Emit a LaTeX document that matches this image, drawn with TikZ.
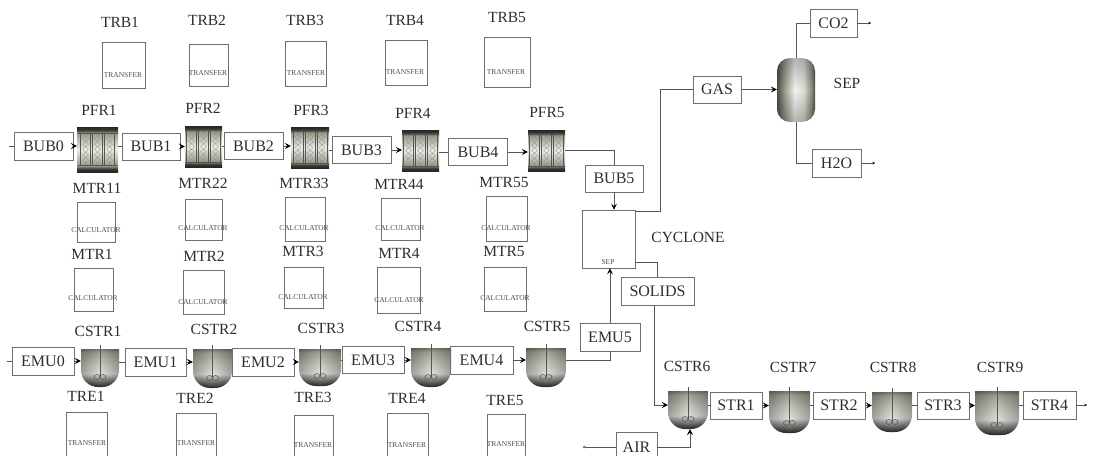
\documentclass[tikz,border=0pt]{standalone}
\usepackage{fontspec}
\setmainfont{Liberation Serif}
\usepackage{tikz}
\usetikzlibrary{positioning, calc, arrows.meta, fadings}
\definecolor{linegray}{HTML}{6F6F6F}
\definecolor{pipegray}{HTML}{555555}
\definecolor{inkgray}{HTML}{2E2E2E}
\definecolor{tubegray}{HTML}{55554C}
\pgfdeclareverticalshading{bowlshade}{100bp}{color(0bp)=(black!85); color(25bp)=(black!85);
  color(31bp)=(black!60); color(41bp)=(yellow!14!black!14); color(52bp)=(yellow!14!black!24);
  color(66bp)=(yellow!14!black!42); color(75bp)=(black!70); color(100bp)=(black!70)}
\pgfdeclareverticalshading{pfrshade}{100bp}{color(0bp)=(black!85); color(25bp)=(black!85);
  color(28bp)=(black!80); color(32bp)=(yellow!12!black!45); color(50bp)=(yellow!14!black!8);
  color(68bp)=(yellow!12!black!45); color(72bp)=(black!80); color(75bp)=(black!85); color(100bp)=(black!85)}
\pgfdeclarehorizontalshading{sepshade}{100bp}{color(0bp)=(black!70); color(25bp)=(black!70);
  color(33bp)=(yellow!12!black!50); color(48bp)=(yellow!14!black!6); color(60bp)=(yellow!14!black!15);
  color(70bp)=(yellow!12!black!50); color(75bp)=(black!70); color(100bp)=(black!70)}
\tikzfading[name=edgefade, left color=transparent!72, right color=transparent!72, middle color=transparent!100]
\tikzfading[name=capfade, top color=transparent!75, bottom color=transparent!75, middle color=transparent!100]
\newcommand{\pfrcore}{%
  \begin{scope}[shift={(path picture bounding box.center)}]
    \draw[tubegray, line width=.5pt] (-20,-16) -- (20,-16) (-20,16) -- (20,16);
    \foreach \cx in {-12,0,12}{
      \draw[tubegray, line width=.5pt] (\cx-5,-16) -- (\cx-5,16) (\cx+5,-16) -- (\cx+5,16);
      \draw[tubegray!70, line width=.25pt] (\cx-3,-16) -- (\cx+3,-10.7) -- (\cx-3,-5.3) -- (\cx+3,0) -- (\cx-3,5.3) -- (\cx+3,10.7) -- (\cx-3,16);
      \draw[tubegray!70, line width=.25pt] (\cx+3,-16) -- (\cx-3,-10.7) -- (\cx+3,-5.3) -- (\cx-3,0) -- (\cx+3,5.3) -- (\cx-3,10.7) -- (\cx+3,16);
    }
  \end{scope}}
\newcommand{\cstrshape}{($(path picture bounding box.north west)+(0,4)$)
    [rounded corners=17pt] -- (path picture bounding box.south west) -- (path picture bounding box.south east)
    [sharp corners] -- ($(path picture bounding box.north east)+(0,4)$) -- cycle}
\newcommand{\cstrcore}{%
  \shade[shading=bowlshade] \cstrshape;
  \fill[black, path fading=edgefade] \cstrshape;
  \draw[pipegray, line width=.5pt] (path picture bounding box.north) -- ($(path picture bounding box.south)+(0,-10)$);
  \draw[pipegray, line width=.5pt] ($(path picture bounding box.south)+(-3,-10)$) ellipse (3 and 2.5)
    ($(path picture bounding box.south)+(3,-10)$) ellipse (3 and 2.5);}
\begin{document}
\begin{tikzpicture}[x=1pt, y=-1pt,
  blk/.style 2 args={draw=linegray, line width=.7pt, inner sep=0pt, minimum width=#1, minimum height=#2},
  strm/.style 2 args={blk={#1}{#2}, font=\fontsize{16}{18}\selectfont, text=inkgray},
  unitname/.style={font=\fontsize{15.5}{18}\selectfont, text=inkgray, inner sep=0pt},
  tag/.style={font=\fontsize{7.5}{9}\selectfont, text=inkgray!85, inner sep=0pt},
  pfr/.style 2 args={inner sep=0pt, minimum width=#1, minimum height=#2, shading=pfrshade, path picture={\pfrcore}},
  cstr/.style 2 args={inner sep=0pt, minimum width=#1, minimum height=#2, path picture={\cstrcore}},
  pipe/.style={draw=pipegray, line width=.6pt},
  arr/.style={pipe, -{Stealth[length=6pt, width=6pt, inset=2.5pt, black]}},
  outarr/.style={pipe, -{Stealth[length=2.5pt, width=2.5pt, black]}},
  inlet/.style={pipe, {Circle[length=2.5pt, open]}-},
]
  \clip[use as bounding box] (0,0) rectangle (1102,455);

  % transfer blocks, top row
  \node[blk={43}{46}] (trb1) at (123.5,65) {}; \node[unitname] (trb1name) at (120,22) {TRB1}; \node[tag] (trb1tag) at (123,75) {TRANSFER};
  \node[blk={39}{42}] (trb2) at (208.5,65) {}; \node[unitname] (trb2name) at (207,20) {TRB2}; \node[tag] (trb2tag) at (208,73) {TRANSFER};
  \node[blk={41}{45}] (trb3) at (305.5,63.5) {}; \node[unitname] (trb3name) at (305,20) {TRB3}; \node[tag] (trb3tag) at (306,73) {TRANSFER};
  \node[blk={42}{45}] (trb4) at (406,62.5) {}; \node[unitname] (trb4name) at (405,20) {TRB4}; \node[tag] (trb4tag) at (405,72) {TRANSFER};
  \node[blk={46}{50}] (trb5) at (507,62) {}; \node[unitname] (trb5name) at (507,18) {TRB5}; \node[tag] (trb5tag) at (506,72) {TRANSFER};

  % calculator blocks
  \node[blk={38}{40}] (mtr11) at (96,222) {}; \node[unitname] (mtr11name) at (97,188) {MTR11}; \node[tag] (mtr11tag) at (96,230) {CALCULATOR};
  \node[blk={37}{41}] (mtr22) at (203.5,219.5) {}; \node[unitname] (mtr22name) at (203,183) {MTR22}; \node[tag] (mtr22tag) at (203,228) {CALCULATOR};
  \node[blk={40}{44}] (mtr33) at (305,219) {}; \node[unitname] (mtr33name) at (304,183) {MTR33}; \node[tag] (mtr33tag) at (304,228) {CALCULATOR};
  \node[blk={39}{42}] (mtr44) at (400.5,219) {}; \node[unitname] (mtr44name) at (399,184) {MTR44}; \node[tag] (mtr44tag) at (400,228) {CALCULATOR};
  \node[blk={41}{45}] (mtr55) at (506.5,218.5) {}; \node[unitname] (mtr55name) at (504,182) {MTR55}; \node[tag] (mtr55tag) at (506,228) {CALCULATOR};
  \node[blk={39}{43}] (mtr1) at (93.5,289.5) {}; \node[unitname] (mtr1name) at (92,254) {MTR1}; \node[tag] (mtr1tag) at (93,298) {CALCULATOR};
  \node[blk={41}{44}] (mtr2) at (203.5,292) {}; \node[unitname] (mtr2name) at (204,256) {MTR2}; \node[tag] (mtr2tag) at (203,302) {CALCULATOR};
  \node[blk={39}{41}] (mtr3) at (303.5,287.5) {}; \node[unitname] (mtr3name) at (303,251) {MTR3}; \node[tag] (mtr3tag) at (303,297) {CALCULATOR};
  \node[blk={43}{46}] (mtr4) at (398.5,290) {}; \node[unitname] (mtr4name) at (399,253) {MTR4}; \node[tag] (mtr4tag) at (399,300) {CALCULATOR};
  \node[blk={42}{44}] (mtr5) at (505,289) {}; \node[unitname] (mtr5name) at (504,251) {MTR5}; \node[tag] (mtr5tag) at (505,298) {CALCULATOR};

  % transfer blocks, bottom row
  \node[blk={41}{52}] (tre1) at (86.5,438) {}; \node[unitname] (tre1name) at (86,396) {TRE1}; \node[tag] (tre1tag) at (87,443) {TRANSFER};
  \node[blk={40}{52}] (tre2) at (196,439) {}; \node[unitname] (tre2name) at (195,398) {TRE2}; \node[tag] (tre2tag) at (196,443) {TRANSFER};
  \node[blk={39}{52}] (tre3) at (313.5,441) {}; \node[unitname] (tre3name) at (313,397) {TRE3}; \node[tag] (tre3tag) at (313,445) {TRANSFER};
  \node[blk={41}{52}] (tre4) at (407.5,439) {}; \node[unitname] (tre4name) at (407,398) {TRE4}; \node[tag] (tre4tag) at (407,445) {TRANSFER};
  \node[blk={38}{52}] (tre5) at (506,440) {}; \node[unitname] (tre5name) at (505,400) {TRE5}; \node[tag] (tre5tag) at (506,444) {TRANSFER};

  % plug flow reactors
  \node[pfr={41}{45}] (pfr1) at (97.5,149.5) {}; \node[unitname] (pfr1name) at (99,110) {PFR1};
  \node[pfr={37}{41}] (pfr2) at (203.5,146.5) {}; \node[unitname] (pfr2name) at (203,108) {PFR2};
  \node[pfr={38}{41}] (pfr3) at (310,147.5) {}; \node[unitname] (pfr3name) at (311,110) {PFR3};
  \node[pfr={37}{41}] (pfr4) at (420.5,150.5) {}; \node[unitname] (pfr4name) at (413,113) {PFR4};
  \node[pfr={37}{41}] (pfr5) at (546.5,150.5) {}; \node[unitname] (pfr5name) at (547,112) {PFR5};

  % stirred tanks
  \node[cstr={38}{42}] (cstr1) at (100,366) {}; \node[unitname] (cstr1name) at (98,331) {CSTR1};
  \node[cstr={39}{43}] (cstr2) at (212.5,366.5) {}; \node[unitname] (cstr2name) at (214,329) {CSTR2};
  \node[cstr={42}{41}] (cstr3) at (320,365.5) {}; \node[unitname] (cstr3name) at (321,328) {CSTR3};
  \node[cstr={40}{43}] (cstr4) at (431,365.5) {}; \node[unitname] (cstr4name) at (418,326) {CSTR4};
  \node[cstr={40}{43}] (cstr5) at (546,365.5) {}; \node[unitname] (cstr5name) at (547,326) {CSTR5};
  \node[cstr={40}{42}] (cstr6) at (688,408) {}; \node[unitname] (cstr6name) at (687,366) {CSTR6};
  \node[cstr={41}{46}] (cstr7) at (789.5,410) {}; \node[unitname] (cstr7name) at (793,367) {CSTR7};
  \node[cstr={40}{44}] (cstr8) at (892,410) {}; \node[unitname] (cstr8name) at (893,367) {CSTR8};
  \node[cstr={44}{48}] (cstr9) at (997,411) {}; \node[unitname] (cstr9name) at (1000,367) {CSTR9};

  % separators
  \node[blk={53}{58}] (cyclone) at (608.5,239) {}; \node[unitname] (cyclonename) at (688,237) {CYCLONE}; \node[tag] (cyclonetag) at (608,262) {SEP};
  \node[rounded corners=13pt, inner sep=0pt, minimum width=38, minimum height=64, shading=sepshade,
    path picture={\fill[black, path fading=capfade] (path picture bounding box.south west) rectangle (path picture bounding box.north east);}] (sep) at (796,90) {};
  \node[unitname] (sepname) at (847,83) {SEP};

  % stream tables
  \node[strm={59}{28}] (bub0) at (43.5,146) {BUB0};
  \node[strm={58}{27}] (bub1) at (151,146.5) {BUB1};
  \node[strm={59}{27}] (bub2) at (253.5,146) {BUB2};
  \node[strm={59}{27}] (bub3) at (361.5,150) {BUB3};
  \node[strm={59}{27}] (bub4) at (478,152) {BUB4};
  \node[strm={58}{27}] (bub5) at (614,178.5) {BUB5};
  \node[strm={62}{28}] (emu0) at (43,361) {EMU0};
  \node[strm={61}{28}] (emu1) at (155.5,362) {EMU1};
  \node[strm={62}{28}] (emu2) at (263,362) {EMU2};
  \node[strm={62}{27}] (emu3) at (373,360) {EMU3};
  \node[strm={63}{28}] (emu4) at (481.5,360) {EMU4};
  \node[strm={60}{28}] (emu5) at (610,337) {EMU5};
  \node[strm={52}{27}] (str1) at (736,405.5) {STR1};
  \node[strm={52}{27}] (str2) at (839,405.5) {STR2};
  \node[strm={52}{27}] (str3) at (943,405.5) {STR3};
  \node[strm={53}{28}] (str4) at (1049.5,405) {STR4};
  \node[strm={73}{28}] (solids) at (657.5,291) {SOLIDS};
  \node[strm={48}{27}] (gas) at (717,89.5) {GAS};
  \node[strm={47}{28}] (co2) at (833.5,23) {CO2};
  \node[strm={49}{28}] (h2o) at (836.5,163) {H2O};
  \node[strm={41}{30}] (air) at (636.5,447) {AIR};

  % free stream ends
  \coordinate (bub0in) at (9,146);
  \coordinate (emu0in) at (7,361);
  \coordinate (airin) at (583,447);
  \coordinate (co2out) at (871,23);
  \coordinate (h2oout) at (875,163);
  \coordinate (str4out) at (1087,405);

  % bubble phase line
  \draw[pipe] (bub0in) -- (bub0.west);
  \draw[arr] (bub0.east) -- (bub0.east -| pfr1.west);
  \draw[pipe] (pfr1.east |- bub1.west) -- (bub1.west);
  \draw[arr] (bub1.east) -- (bub1.east -| pfr2.west);
  \draw[pipe] (pfr2.east |- bub2.west) -- (bub2.west);
  \draw[arr] (bub2.east) -- (bub2.east -| pfr3.west);
  \draw[pipe] (pfr3.east |- bub3.west) -- (bub3.west);
  \draw[arr] (bub3.east) -- (bub3.east -| pfr4.west);
  \draw[pipe] (pfr4.east |- bub4.west) -- (bub4.west);
  \draw[arr] (bub4.east) -- (bub4.east -| pfr5.west);
  \draw[pipe] (pfr5.east) -| (bub5.north);
  \draw[arr] (bub5.south) -- (bub5.south |- cyclone.north);

  % emulsion phase line
  \draw[pipe] (emu0in) -- (emu0.west);
  \draw[arr] (emu0.east) -- (emu0.east -| cstr1.west);
  \draw[pipe] (cstr1.east |- emu1.west) -- (emu1.west);
  \draw[arr] (emu1.east) -- (emu1.east -| cstr2.west);
  \draw[pipe] (cstr2.east |- emu2.west) -- (emu2.west);
  \draw[arr] (emu2.east) -- (emu2.east -| cstr3.west);
  \draw[pipe] (cstr3.east |- emu3.west) -- (emu3.west);
  \draw[arr] (emu3.east) -- (emu3.east -| cstr4.west);
  \draw[pipe] (cstr4.east |- emu4.west) -- (emu4.west);
  \draw[arr] (emu4.east) -- (emu4.east -| cstr5.west);
  \draw[pipe] (cstr5.east |- emu4.east) -| (emu5.south);
  \draw[arr] (emu5.north) -- (emu5.north |- cyclone.south);

  % gas side
  \draw[pipe] ([yshift=-2pt]cyclone.north east) -- ++(25,0) |- (gas.west);
  \draw[arr] (gas.east) -- (gas.east -| sep.west);
  \draw[pipe] (sep.north) |- (co2.west);
  \draw[outarr] (co2.east) -- (co2out);
  \draw[pipe] (sep.south) |- (h2o.west);
  \draw[outarr] (h2o.east) -- (h2oout);

  % solids side
  \draw[pipe] ([yshift=-23pt]cyclone.east) -| (solids.north);
  \draw[arr] ([xshift=-3pt]solids.south) |- ([yshift=3pt]cstr6.west);
  \draw[inlet] (airin) -- (air.west);
  \draw[arr] (air.east) -| ([xshift=2pt]cstr6.south);
  \draw[pipe] (cstr6.east |- str1.west) -- (str1.west);
  \draw[arr] (str1.east) -- (str1.east -| cstr7.west);
  \draw[pipe] (cstr7.east |- str2.west) -- (str2.west);
  \draw[arr] (str2.east) -- (str2.east -| cstr8.west);
  \draw[pipe] (cstr8.east |- str3.west) -- (str3.west);
  \draw[arr] (str3.east) -- (str3.east -| cstr9.west);
  \draw[pipe] (cstr9.east |- str4.west) -- (str4.west);
  \draw[outarr] (str4.east) -- (str4out);
\end{tikzpicture}
\end{document}
